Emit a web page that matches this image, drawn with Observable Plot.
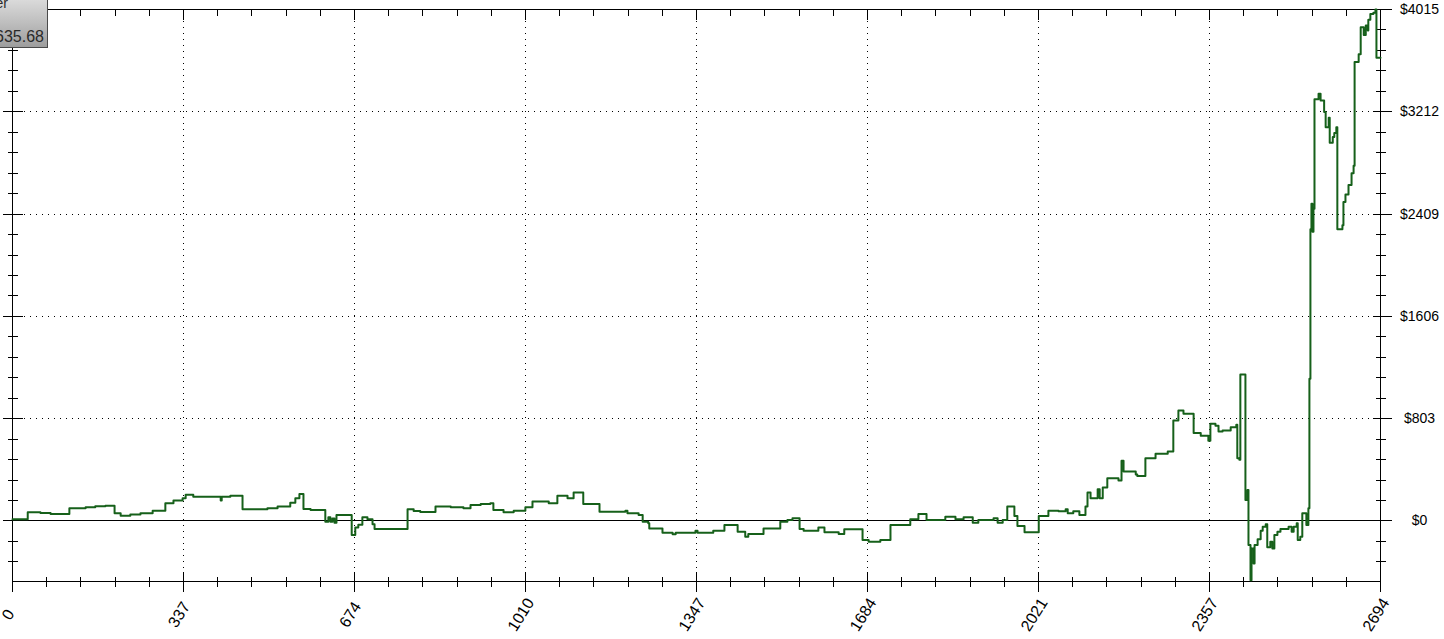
<!DOCTYPE html>
<html><head><meta charset="utf-8">
<script src="https://cdn.jsdelivr.net/npm/d3@7"></script>
<script src="https://cdn.jsdelivr.net/npm/@observablehq/plot@0.6"></script>
<style>
html,body{margin:0;padding:0;background:#fff;overflow:hidden;}
#wrap{position:relative;width:1444px;height:639px;}
#box{position:absolute;left:0;top:0;width:47px;height:47px;overflow:hidden;background:linear-gradient(to bottom,#dadada 0%,#bdbdbd 50%,#9d9d9d 100%);border-right:1px solid #4a4a4a;border-bottom:1px solid #4a4a4a;font-family:"Liberation Sans",sans-serif;color:#2a2a2a;}
#box .l1{position:absolute;right:39px;top:-5px;font-size:14px;white-space:nowrap;}
#box .l2{position:absolute;right:3px;top:28px;font-size:16px;white-space:nowrap;}
</style></head>
<body>
<div id="wrap"><div id="chart"></div><div id="box"><span class="l1">Trader</span><span class="l2">$3635.68</span></div></div>
<script>
// trade number (x) where each step starts, and account equity in $ (y)
const tradeIdx = [0,30,55,75,112,144,163,183,201,213,232,252,276,301,317,335,341,356,410,412,429,453,502,522,547,557,565,573,587,616,622,626,630,634,638,668,675,681,689,699,709,713,778,790,803,833,863,888,902,922,941,947,967,987,1010,1024,1056,1073,1093,1105,1124,1156,1207,1211,1233,1241,1252,1254,1280,1300,1306,1345,1349,1380,1402,1428,1443,1449,1479,1512,1526,1536,1550,1558,1587,1599,1627,1638,1674,1686,1709,1729,1768,1784,1800,1837,1857,1873,1891,1902,1932,1940,1950,1959,1973,1979,1993,2021,2040,2060,2074,2078,2089,2101,2113,2117,2123,2137,2141,2147,2156,2178,2184,2188,2212,2215,2231,2251,2275,2286,2296,2306,2326,2340,2355,2359,2369,2375,2383,2399,2410,2412,2416,2418,2428,2432,2434,2438,2440,2444,2446,2452,2458,2462,2468,2471,2477,2481,2485,2491,2497,2513,2519,2523,2529,2531,2536,2540,2548,2552,2554,2556,2558,2560,2562,2564,2572,2576,2583,2586,2592,2594,2600,2603,2607,2609,2619,2621,2625,2631,2637,2641,2643,2651,2655,2661,2665,2669,2670,2674,2680,2684,2686,2694];
const equity = [13,68,63,55,100,108,116,120,60,42,50,60,81,139,160,179,205,191,160,191,198,92,100,113,144,179,212,94,87,-5,30,-5,20,-13,47,-110,-52,-30,29,13,-26,-63,92,79,71,113,108,100,126,134,139,87,68,81,108,152,139,199,179,223,134,73,81,60,47,-5,-18,-58,-92,-105,-92,-76,-92,-76,-31,-84,-123,-102,-58,-5,8,21,-63,-76,-52,-89,-102,-65,-150,-163,-150,-31,13,55,8,34,13,29,-13,8,21,-13,8,113,39,-39,-89,39,81,76,92,60,76,47,113,223,179,249,179,262,336,317,472,388,365,354,493,527,545,789,868,842,690,669,630,763,748,703,710,735,756,493,480,1149,165,244,-189,-465,-215,-333,-189,-144,-76,-45,-26,-207,-163,-215,-110,-84,-63,-45,-84,-45,-18,-150,-123,60,-31,100,1116,2290,2490,2270,2450,3310,3353,3301,3211,3090,3165,2969,3015,3046,3090,2291,2322,2503,2562,2638,2729,2788,3603,3663,3875,3814,3889,3850,3935,3980,3990,4015,3636,3636];

// axis labels
const xMajor = [0,337,674,1010,1347,1684,2021,2357,2694];
const yMajor = [0,803,1606,2409,3212,4015];
const yLabels = ["$0","$803","$1606","$2409","$3212","$4015"];

const xMinor = d3.range(0,41).map(i => 2694*i/40);
const yMinor = d3.range(-2,26).map(i => 803*i/5);

const vTick = (a,b) => ({draw(ctx){ctx.moveTo(0,a);ctx.lineTo(0,b);}});
const hTick = (a,b) => ({draw(ctx){ctx.moveTo(a,0);ctx.lineTo(b,0);}});
const tk = {stroke:"#000", fill:"none", strokeWidth:1, shapeRendering:"crispEdges"};

const chart = Plot.plot({
  width: 1444, height: 639,
  marginLeft: 12, marginRight: 64, marginTop: 9, marginBottom: 58,
  x: {domain:[0,2694], axis:null},
  y: {domain:[-475,4015], axis:null},
  style: {fontFamily:"Liberation Sans, Arial, sans-serif", background:"#fff", overflow:"visible", color:"#000"},
  marks: [
    Plot.ruleX(xMajor.slice(1,-1), {x:d=>d, stroke:"#000", strokeDasharray:"1,5", shapeRendering:"crispEdges"}),
    Plot.ruleY(yMajor.slice(1,-1), {y:d=>d, stroke:"#000", strokeDasharray:"1,5", shapeRendering:"crispEdges"}),
    Plot.ruleY([0], {y:d=>d, stroke:"#000", shapeRendering:"crispEdges"}),
    Plot.frame({stroke:"#000", shapeRendering:"crispEdges"}),
    Plot.dot(xMinor, {x:d=>d, frameAnchor:"bottom", symbol:vTick(-5,5), ...tk}),
    Plot.dot(xMajor, {x:d=>d, frameAnchor:"bottom", symbol:vTick(-10,10), ...tk}),
    Plot.dot(xMinor, {x:d=>d, frameAnchor:"top", symbol:vTick(0,6), ...tk}),
    Plot.dot(xMajor, {x:d=>d, frameAnchor:"top", symbol:vTick(0,10), ...tk}),
    Plot.dot(yMinor, {y:d=>d, frameAnchor:"left", symbol:hTick(-5,5), ...tk}),
    Plot.dot(yMajor, {y:d=>d, frameAnchor:"left", symbol:hTick(-10,10), ...tk}),
    Plot.dot(yMinor, {y:d=>d, frameAnchor:"right", symbol:hTick(-5,5), ...tk}),
    Plot.dot(yMajor, {y:d=>d, frameAnchor:"right", symbol:hTick(-8,11), ...tk}),
    Plot.line(equity, {x:tradeIdx, y:equity, curve:"step-after", stroke:"#16601a", strokeWidth:2}),
    Plot.text(yMajor, {y:d=>d, text:(d,i)=>yLabels[i], frameAnchor:"right", dx:39, textAnchor:"middle", fontSize:14, fill:"#000"}),
    Plot.text(xMajor, {x:d=>d, text:d=>String(d), frameAnchor:"bottom", dy:36, rotate:-58, textAnchor:"middle", fontSize:16, fill:"#000"})
  ]
});
document.getElementById("chart").appendChild(chart);
</script>
</body></html>
